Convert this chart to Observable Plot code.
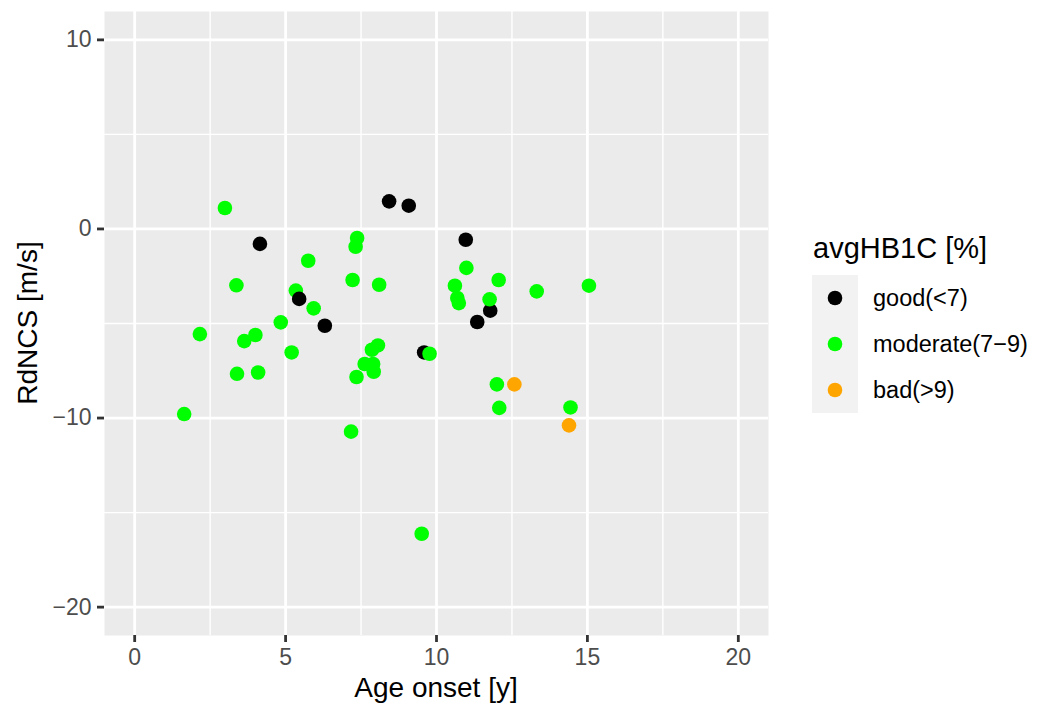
<!DOCTYPE html>
<html>
<head>
<meta charset="utf-8">
<script src="https://cdn.jsdelivr.net/npm/d3@7"></script>
<script src="https://cdn.jsdelivr.net/npm/@observablehq/plot@0.6"></script>
<style>
  body { margin: 0; background: #ffffff; }
  svg { display: block; }
</style>
</head>
<body>
<div id="chart"></div>
<script>
// ---- data ----
const ageOnset = [9.59, 11.78,
  2.99, 1.64, 2.16, 3.37, 3.39, 3.63, 4.00, 4.09, 4.84, 5.20,
  5.34, 5.75, 5.93, 7.17, 7.22, 7.32, 7.37, 7.35, 7.62, 7.86,
  7.90, 7.92, 8.06, 8.10, 9.51, 9.77, 10.61, 10.69, 10.74, 10.99,
  11.76, 12.00, 12.06, 12.08, 13.32, 14.44, 15.05,
  4.15, 5.45, 6.30, 8.43, 9.08, 10.97, 11.35,
  12.58, 14.39];
const rdncs = [-6.53, -4.32,
  1.11, -9.79, -5.56, -2.98, -7.66, -5.93, -5.61, -7.59, -4.94, -6.53,
  -3.26, -1.68, -4.20, -10.72, -2.70, -0.94, -0.48, -7.83, -7.14, -6.39,
  -7.14, -7.55, -6.16, -2.95, -16.12, -6.60, -3.00, -3.65, -3.92, -2.06,
  -3.72, -8.22, -2.70, -9.46, -3.30, -9.44, -3.00,
  -0.79, -3.70, -5.12, 1.46, 1.23, -0.57, -4.92,
  -8.22, -10.39];
const hba1cCode = [
  "good", "good",
  "moderate", "moderate", "moderate", "moderate", "moderate", "moderate", "moderate", "moderate", "moderate", "moderate",
  "moderate", "moderate", "moderate", "moderate", "moderate", "moderate", "moderate", "moderate", "moderate", "moderate",
  "moderate", "moderate", "moderate", "moderate", "moderate", "moderate", "moderate", "moderate", "moderate", "moderate",
  "moderate", "moderate", "moderate", "moderate", "moderate", "moderate", "moderate",
  "good", "good", "good", "good", "good", "good", "good",
  "bad", "bad"];
const groupCodes = ["good", "moderate", "bad"];
const groupLabels = ["good(<7)", "moderate(7\u22129)", "bad(>9)"];
const groupColors = ["#000000", "#00ff00", "#ffa500"];
const xTicks = [0, 5, 10, 15, 20];
const yTicks = [-20, -10, 0, 10];
const xMinor = [2.5, 7.5, 12.5, 17.5];
const yMinor = [-15, -5, 5];
const xDomain = [-1, 21];
const yDomain = [-21.5, 11.5];
const xTitle = "Age onset [y]";
const yTitle = "RdNCS [m/s]";
const legendTitle = "avgHB1C [%]";

// ---- table ----
const rows = ageOnset.map((a, i) => ({
  age: a,
  rdncs: rdncs[i],
  group: groupLabels[groupCodes.indexOf(hba1cCode[i])]
}));

// ---- layout ----
const FONT = "'Liberation Sans', Arial, Helvetica, sans-serif";
const W = 1037, H = 709;
const mL = 104, mR = 269, mT = 11, mB = 74;

const plot = Plot.plot({
  width: W,
  height: H,
  marginLeft: mL,
  marginRight: mR,
  marginTop: mT,
  marginBottom: mB,
  style: { fontFamily: FONT, background: "#ffffff", color: "#000000", overflow: "visible" },
  x: { domain: xDomain },
  y: { domain: yDomain },
  color: { domain: groupLabels, range: groupColors },
  marks: [
    Plot.frame({ fill: "#ebebeb", stroke: "none" }),
    Plot.gridX(xMinor, { stroke: "#ffffff", strokeOpacity: 1, strokeWidth: 1.4 }),
    Plot.gridY(yMinor, { stroke: "#ffffff", strokeOpacity: 1, strokeWidth: 1.4 }),
    Plot.gridX(xTicks, { stroke: "#ffffff", strokeOpacity: 1, strokeWidth: 2.8 }),
    Plot.gridY(yTicks, { stroke: "#ffffff", strokeOpacity: 1, strokeWidth: 2.8 }),
    Plot.dot(rows, { x: "age", y: "rdncs", fill: "group", r: 7.3, stroke: "none" }),
    Plot.axisX(xTicks, { tickSize: 7, tickPadding: 6, fontSize: 23, fill: "#4d4d4d", stroke: "#333333", strokeWidth: 2.8, label: null }),
    Plot.axisY(yTicks, { tickSize: 7, tickPadding: 6, fontSize: 23, fill: "#4d4d4d", stroke: "#333333", strokeWidth: 2.8, label: null })
  ]
});

document.getElementById("chart").appendChild(plot);

// ---- axis titles & legend (text) ----
const svg = d3.select(plot);
const panelCx = mL + (W - mL - mR) / 2;
const panelCy = mT + (H - mT - mB) / 2;

svg.append("text")
  .attr("x", panelCx).attr("y", H - mB + 62)
  .attr("text-anchor", "middle")
  .attr("font-family", FONT).attr("font-size", 28).attr("fill", "#000")
  .text(xTitle);

svg.append("text")
  .attr("transform", `translate(37,${panelCy}) rotate(-90)`)
  .attr("text-anchor", "middle")
  .attr("font-family", FONT).attr("font-size", 28).attr("fill", "#000")
  .text(yTitle);

const color = plot.scale("color");
const lx = W - mR + 44;
const keyTop = 275, keyH = 46, keyW = 46;
const lg = svg.append("g").attr("font-family", FONT).attr("text-anchor", "start");
lg.append("text")
  .attr("x", lx + 1).attr("y", keyTop - 17)
  .attr("text-anchor", "start")
  .attr("font-size", 29).attr("fill", "#000")
  .text(legendTitle);
lg.append("rect")
  .attr("x", lx).attr("y", keyTop)
  .attr("width", keyW).attr("height", keyH * groupLabels.length)
  .attr("fill", "#f2f2f2");
groupLabels.forEach((g, i) => {
  const cy = keyTop + keyH / 2 + keyH * i;
  lg.append("circle")
    .attr("cx", lx + keyW / 2).attr("cy", cy).attr("r", 7.3)
    .attr("fill", color.apply(g));
  lg.append("text")
    .attr("x", lx + keyW + 15).attr("y", cy).attr("dy", "0.35em")
    .attr("text-anchor", "start")
    .attr("font-size", 23.5).attr("fill", "#000")
    .text(g);
});
</script>
</body>
</html>
